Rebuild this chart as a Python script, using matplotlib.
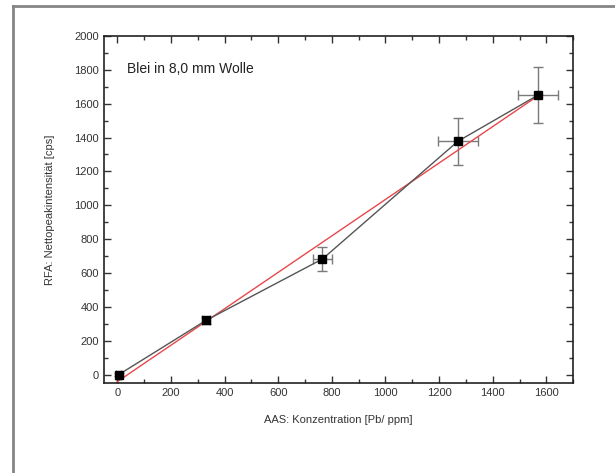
import numpy as np
import matplotlib
matplotlib.use("Agg")
import matplotlib.pyplot as plt
from matplotlib.lines import Line2D
from matplotlib.ticker import MultipleLocator

plt.rcParams['font.family'] = ['Liberation Sans', 'DejaVu Sans']

# data
conc = [5, 330, 765, 1270, 1570]          # AAS concentration [Pb/ppm]
conc_err = [10, 15, 37, 76, 74]
intens = [0, 320, 683, 1378, 1652]        # RFA net peak intensity [cps]
intens_err = [10, 18, 70, 138, 165]

fig = plt.figure(figsize=(6.15, 4.73), dpi=100)
ax = fig.add_axes([0.169, 0.190, 0.763, 0.734])

# outer frame (only left and top edges visible)
fig.add_artist(Line2D([13 / 615, 13 / 615], [0, 1 - 6 / 473], transform=fig.transFigure,
                      color='#858585', lw=2))
fig.add_artist(Line2D([13 / 615, 1], [1 - 6 / 473, 1 - 6 / 473], transform=fig.transFigure,
                      color='#858585', lw=2))

# plain linear fit
slope, icpt = np.polyfit(conc, intens, 1)
xf = np.array([0, conc[-1]])
ax.plot(xf, slope * xf + icpt, color='#e8474b', lw=1, zorder=2)

ax.errorbar(conc, intens, xerr=conc_err, yerr=intens_err, fmt='none',
            ecolor='#7a7a7a', elinewidth=1, capsize=3.5, capthick=1, zorder=1)
ax.plot(conc, intens, color='#555555', lw=1, marker='s', ms=5.5,
        mfc='black', mec='black', zorder=3)

ax.set_xlim(-50, 1700)
ax.set_ylim(-50, 2000)
ax.xaxis.set_major_locator(MultipleLocator(200))
ax.xaxis.set_minor_locator(MultipleLocator(100))
ax.yaxis.set_major_locator(MultipleLocator(200))
ax.yaxis.set_minor_locator(MultipleLocator(100))
ax.tick_params(which='both', direction='in', top=True, right=True,
               labelsize=8, colors='#333333', width=1)
ax.tick_params(which='major', length=5)
ax.tick_params(which='minor', length=3)
for s in ax.spines.values():
    s.set_linewidth(1.2)
    s.set_color('#222222')

ax.set_xlabel('AAS: Konzentration [Pb/ ppm]', fontsize=8, color='#333333', labelpad=12)
ax.set_ylabel('RFA: Nettopeakintensität [cps]', fontsize=8, color='#333333', labelpad=14)
ax.text(0.05, 0.905, 'Blei in 8,0 mm Wolle', transform=ax.transAxes,
        fontsize=10, color='#222222', va='center')

fig.savefig('out.png', dpi=100)
